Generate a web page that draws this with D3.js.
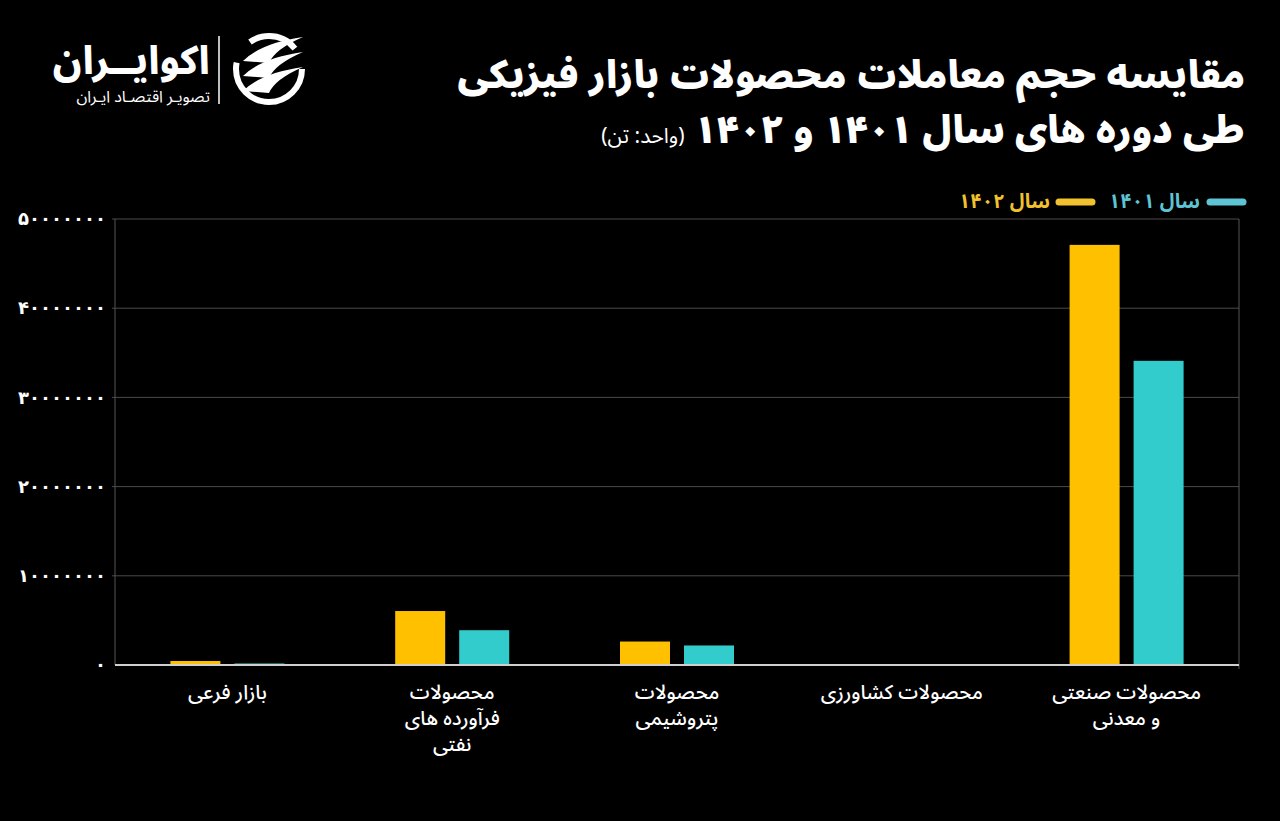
<!DOCTYPE html>
<html><head><meta charset="utf-8">
<script src="https://cdn.jsdelivr.net/npm/d3@7/dist/d3.min.js"></script>
<style>
html,body{margin:0;padding:0;background:#000;}
svg{display:block;}
text{font-family:"Noto Sans Arabic","Vazirmatn","DejaVu Sans",sans-serif;}
</style></head>
<body>
<svg id="chart" width="1280" height="821"></svg>
<script>
// ---- data ----
const categories = ["بازار فرعی", "محصولات فرآورده های نفتی", "محصولات پتروشیمی", "محصولات کشاورزی", "محصولات صنعتی و معدنی"];
const categoryLines = [["بازار فرعی"], ["محصولات", "فرآورده های", "نفتی"], ["محصولات", "پتروشیمی"], ["محصولات کشاورزی"], ["محصولات صنعتی", "و معدنی"]];
const seriesNames = ["سال ۱۴۰۲", "سال ۱۴۰۱"];
const values1402 = [450000, 6050000, 2630000, 0, 47100000];
const values1401 = [170000, 3900000, 2190000, 0, 34100000];
const yTicks = [0, 10000000, 20000000, 30000000, 40000000, 50000000];
const title1 = "مقایسه حجم معاملات محصولات بازار فیزیکی";
const title2 = "طی دوره های سال ۱۴۰۱ و ۱۴۰۲";
const unitText = "(واحد: تن)";

const colors = ["#FFC000", "#33CCCC"];
const legendColors = ["#F2C12E", "#5EC3D3"];

const fa = s => String(s).replace(/\d/g, d => "۰۱۲۳۴۵۶۷۸۹"[d]);

const svg = d3.select("#chart");
const W = 1280, H = 821;
svg.append("rect").attr("width", W).attr("height", H).attr("fill", "#000");

const m = {left: 115, right: 1239, top: 219, bottom: 665};
const x = d3.scaleBand().domain(categories).range([m.left, m.right]);
const y = d3.scaleLinear().domain([0, 50000000]).range([m.bottom, m.top]);

// gridlines
svg.append("g").selectAll("line").data(yTicks.slice(1)).join("line")
  .attr("x1", m.left - 3).attr("x2", m.right)
  .attr("y1", d => y(d)).attr("y2", d => y(d))
  .attr("stroke", "#4a4a4a").attr("stroke-width", 1);

// left axis line and right edge
svg.append("line").attr("x1", m.left).attr("x2", m.left).attr("y1", m.top).attr("y2", m.bottom)
  .attr("stroke", "#555").attr("stroke-width", 1);
svg.append("line").attr("x1", m.right).attr("x2", m.right).attr("y1", m.top).attr("y2", m.bottom + 4)
  .attr("stroke", "#555").attr("stroke-width", 1);

// y labels
const yAxis = d3.axisLeft(y).tickValues(yTicks).tickSize(0).tickPadding(9).tickFormat(d => fa(d));
const gy = svg.append("g").attr("transform", `translate(${m.left},0)`).call(yAxis);
gy.select(".domain").remove();
gy.selectAll("text").attr("fill", "#fff").attr("font-size", 18).attr("font-weight", 600)
  .style("font-family", "'DejaVu Sans', sans-serif")
  .attr("letter-spacing", 1.3).attr("direction", "ltr");

// bars
const barData = [];
categories.forEach((c, i) => {
  barData.push({c, s: 0, v: values1402[i]});
  barData.push({c, s: 1, v: values1401[i]});
});
const bw = 50, gap = 14;
svg.append("g").selectAll("rect").data(barData).join("rect")
  .attr("x", d => x(d.c) + x.bandwidth() / 2 - 57 + d.s * (bw + gap))
  .attr("width", bw)
  .attr("y", d => y(d.v))
  .attr("height", d => y(0) - y(d.v))
  .attr("fill", d => colors[d.s]);

// baseline
svg.append("line").attr("x1", m.left).attr("x2", m.right).attr("y1", m.bottom).attr("y2", m.bottom)
  .attr("stroke", "#cfcfcf").attr("stroke-width", 2);

// x labels
const xl = svg.append("g");
categories.forEach((c, i) => {
  categoryLines[i].forEach((ln, j) => {
    xl.append("text").attr("x", x(c) + x.bandwidth() / 2).attr("y", 699 + j * 26)
      .attr("text-anchor", "middle").attr("direction", "rtl")
      .attr("fill", "#fff").attr("font-size", 20).attr("font-weight", 500).text(ln);
  });
});

// legend
const lg = svg.append("g");
lg.append("line").attr("x1", 1210).attr("x2", 1243).attr("y1", 202).attr("y2", 202)
  .attr("stroke", legendColors[1]).attr("stroke-width", 7).attr("stroke-linecap", "round");
lg.append("text").attr("x", 1200).attr("y", 208).attr("text-anchor", "start").attr("direction", "rtl")
  .attr("fill", legendColors[1]).attr("font-size", 20).attr("font-weight", 700).text(seriesNames[1]);
lg.append("line").attr("x1", 1059).attr("x2", 1092).attr("y1", 202).attr("y2", 202)
  .attr("stroke", legendColors[0]).attr("stroke-width", 7).attr("stroke-linecap", "round");
lg.append("text").attr("x", 1050).attr("y", 208).attr("text-anchor", "start").attr("direction", "rtl")
  .attr("fill", legendColors[0]).attr("font-size", 20).attr("font-weight", 700).text(seriesNames[0]);

// titles
svg.append("text").attr("x", 1245).attr("y", 88).attr("text-anchor", "start").attr("direction", "rtl")
  .attr("fill", "#fff").attr("font-size", 38).attr("font-weight", 900).text(title1);
const t2 = svg.append("text").attr("x", 1245).attr("y", 143).attr("text-anchor", "start").attr("direction", "rtl")
  .attr("fill", "#fff");
t2.append("tspan").attr("font-size", 38).attr("font-weight", 900).text(title2 + " ");
t2.append("tspan").attr("font-size", 21).attr("font-weight", 400).text(unitText);

// logo
const logo = svg.append("g");
logo.append("text").attr("x", 210).attr("y", 74).attr("text-anchor", "start").attr("direction", "rtl")
  .attr("fill", "#fff").attr("font-size", 39).attr("font-weight", 800).text("اکوایــران");
logo.append("text").attr("x", 210).attr("y", 102).attr("text-anchor", "start").attr("direction", "rtl")
  .attr("fill", "#fff").attr("font-size", 16).attr("font-weight", 400).attr("letter-spacing", 0.5).text("تصویـر اقتصـاد ایـران");
logo.append("line").attr("x1", 219).attr("x2", 219).attr("y1", 36).attr("y2", 104)
  .attr("stroke", "#fff").attr("stroke-width", 1.5);
const ic = logo.append("g").attr("transform", "translate(269,69)");
ic.append("circle").attr("r", 33).attr("fill", "none").attr("stroke", "#fff").attr("stroke-width", 6)
  .attr("stroke-dasharray", "110 25 50 25");
[-18, -3, 12].forEach(dy => {
  ic.append("path").attr("d", `M-26,${dy + 10} Q-8,${dy - 8} 34,${dy - 14} Q6,${dy - 2} 0,${dy + 12} Z`)
    .attr("fill", "#fff");
});
</script>
</body></html>
